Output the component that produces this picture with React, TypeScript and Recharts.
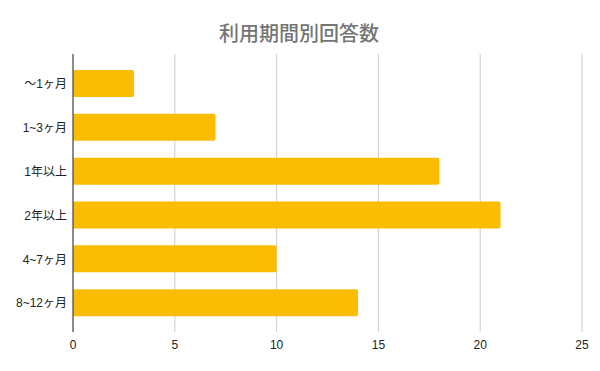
import { BarChart, Bar, XAxis, YAxis, CartesianGrid } from 'recharts';

const categories = ['〜1ヶ月', '1~3ヶ月', '1年以上', '2年以上', '4~7ヶ月', '8~12ヶ月'];
const counts = [3, 7, 18, 21, 10, 14];
const xTicks = [0, 5, 10, 15, 20, 25];

const data = categories.map((period, i) => ({ period, count: counts[i] }));

const font = "'Liberation Sans', Arial, 'Noto Sans CJK JP', sans-serif";

export default function App() {
  return (
    <div style={{ position: 'absolute', left: 0, top: 0, width: 600, height: 371, background: '#fff' }}>
      <div
        style={{
          position: 'absolute', left: 0, top: 19, width: 598, textAlign: 'center',
          fontFamily: "'Noto Sans CJK JP', sans-serif", fontSize: 20, fontWeight: 500, color: '#757575',
          lineHeight: '28px',
        }}
      >
        利用期間別回答数
      </div>
      <BarChart
        width={600}
        height={371}
        data={data}
        layout="vertical"
        margin={{ top: 54, right: 18, bottom: 0, left: 0 }}
      >
        <CartesianGrid horizontal={false} stroke="#cccccc" />
        <XAxis
          type="number"
          domain={[0, 25]}
          ticks={xTicks}
          axisLine={false}
          tickLine={false}
          height={39}
          interval={0}
          tick={{ fontSize: 12, fill: '#222', fontFamily: font }}
        />
        <YAxis
          type="category"
          dataKey="period"
          width={73}
          padding={{ top: 8, bottom: 7 }}
          axisLine={{ stroke: '#333' }}
          tickLine={false}
          tickMargin={0}
          tick={{ fontSize: 12, fill: '#222', fontFamily: font }}
        />
        <Bar dataKey="count" fill="#fbbc04" barSize={27} radius={[0, 2, 2, 0]} isAnimationActive={false} />
      </BarChart>
    </div>
  );
}
